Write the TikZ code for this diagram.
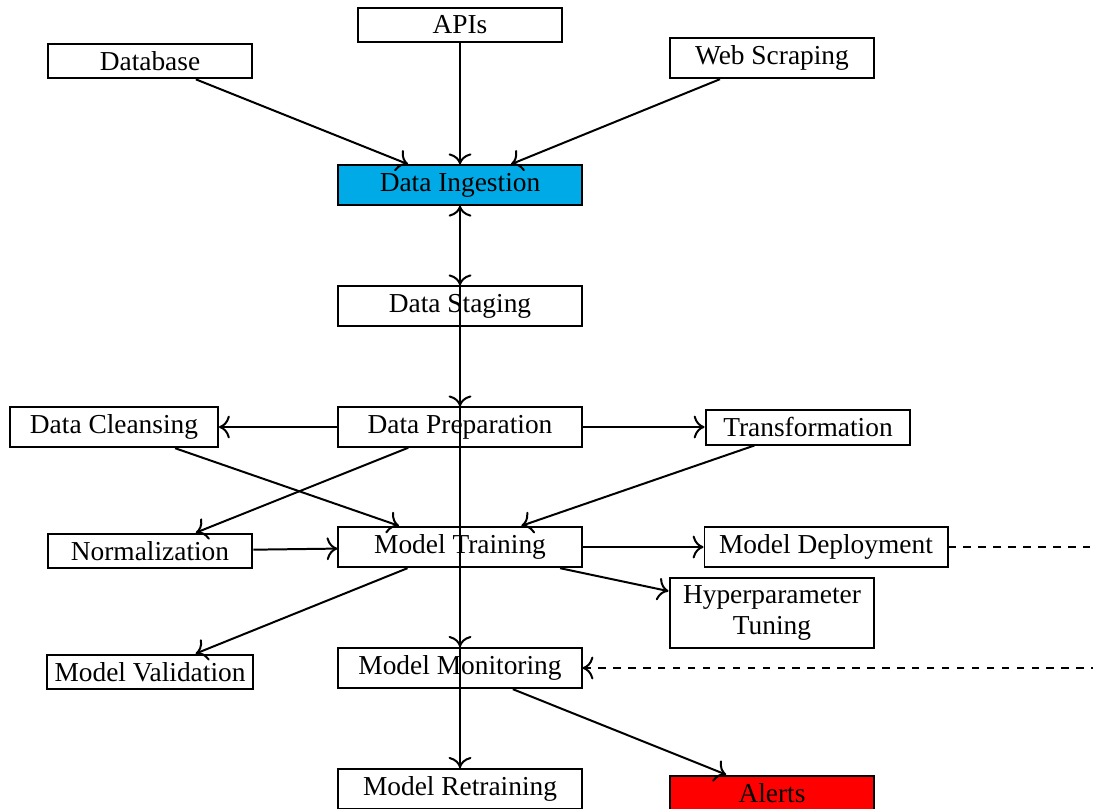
\documentclass[tikz,border=0pt]{standalone}
\usepackage{fontspec}
\setmainfont{Liberation Serif}
\usetikzlibrary{arrows.meta}
\definecolor{ingestfill}{RGB}{0,170,230}
\definecolor{alertfill}{RGB}{255,0,0}
\tikzset{
  stage/.style={draw, thick, fill=white, inner xsep=3pt, inner ysep=3.1pt,
    font=\fontsize{11}{12.5}\selectfont, align=center},
  narrowbox/.style={stage, minimum width=82.3pt},
  widebox/.style={stage, minimum width=97.6pt},
  flow/.style={-{To[scale=1.3]}, thick},
  feedback/.style={flow, dashed}
}
\begin{document}
\begin{tikzpicture}[x=0.4016pt, y=-0.4016pt]
  \useasboundingbox (0,0) rectangle (1093,808);
  \clip (0,0) rectangle (1093,808);

  % sources
  \node[narrowbox] (api) at (460,25) {APIs};
  \node[narrowbox] (db) at (150,61) {Database};
  \node[narrowbox] (web) at (772,58) {Web Scraping};

  % main pipeline
  \node[widebox, fill=ingestfill] (ing) at (460,185) {Data Ingestion};
  \node[widebox] (stag) at (460,306) {Data Staging};
  \node[widebox] (prep) at (460,427) {Data Preparation};
  \node[stage, minimum width=83.5pt] (clean) at (114,427) {Data Cleansing};
  \node[narrowbox] (trans) at (808,427) {Transformation};
  \node[narrowbox] (norm) at (150,551) {Normalization};
  \node[widebox] (train) at (460,547) {Model Training};
  \node[widebox] (dep) at (826,547) {Model Deployment};
  \node[narrowbox] (hyp) at (772,613) {Hyperparameter\\Tuning};
  \node[narrowbox] (val) at (150,672) {Model Validation};
  \node[widebox] (mon) at (460,668) {Model Monitoring};
  \node[widebox] (ret) at (460,789) {Model Retraining};
  \node[narrowbox, fill=alertfill] (alert) at (772,793) {Alerts};

  \coordinate (loop) at (1120,547);

  % ingestion
  \draw[flow] (db) -- (ing);
  \draw[flow] (api) -- (ing);
  \draw[flow] (web) -- (ing);

  % vertical backbone
  \draw[flow] (ret) -- (ing);
  \draw[flow] (ing) -- (stag);
  \draw[flow] (stag) -- (prep);
  \draw[flow] (prep) -- (mon);
  \draw[flow] (mon) -- (ret);

  % preparation branches
  \draw[flow] (prep) -- (clean);
  \draw[flow] (prep) -- (trans);
  \draw[flow] (prep) -- (norm);
  \draw[flow] (clean) -- (train);
  \draw[flow] (trans) -- (train);
  \draw[flow] (norm) -- (train);

  % training branches
  \draw[flow] (train) -- (dep);
  \draw[flow] (train) -- (hyp);
  \draw[flow] (train) -- (val);

  % monitoring
  \draw[flow] (mon) -- (alert);
  \draw[feedback] (dep.east) -- (loop) |- (mon.east);
\end{tikzpicture}
\end{document}
